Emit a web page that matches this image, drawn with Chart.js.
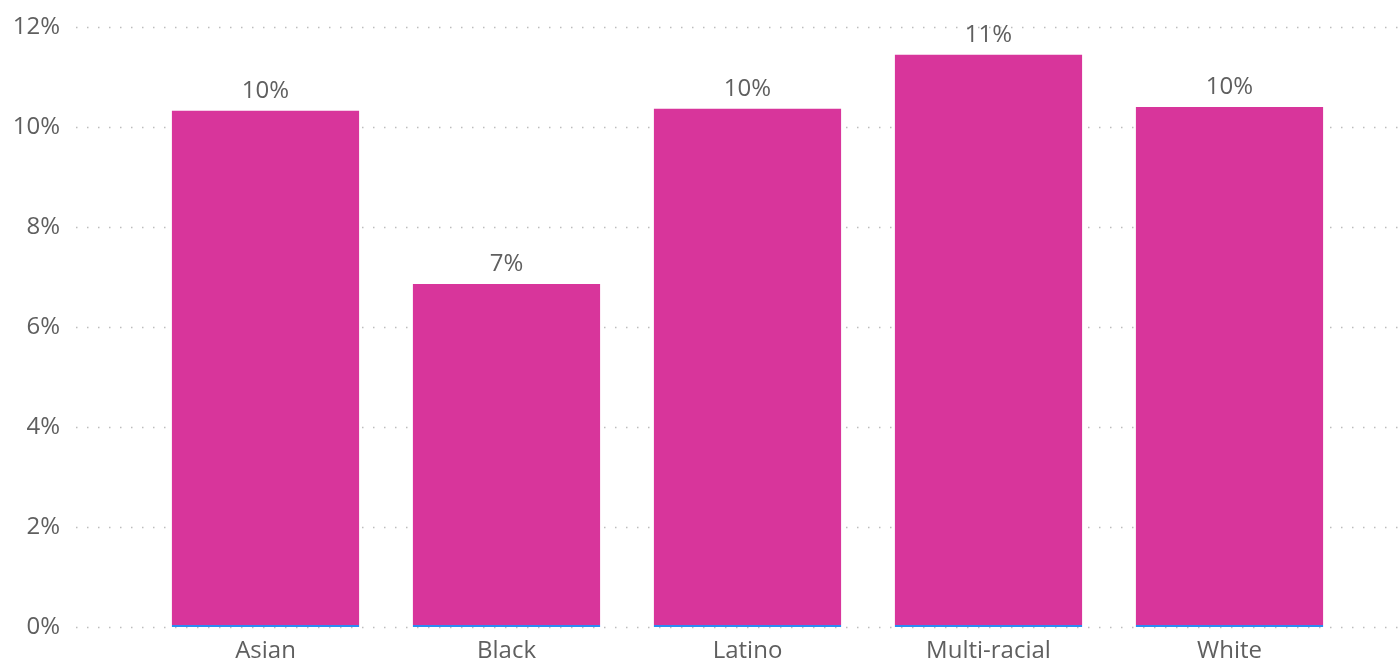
<!DOCTYPE html>
<html>
<head>
<meta charset="utf-8">
<script src="https://cdn.jsdelivr.net/npm/chart.js@4/dist/chart.umd.min.js"></script>
<style>
  html, body { margin: 0; padding: 0; background: #ffffff; }
  #wrap { width: 1400px; height: 665px; position: relative; }
</style>
</head>
<body>
<div id="wrap"><canvas id="c" width="1400" height="665"></canvas></div>
<script>
// Share by race / ethnicity (percent)
const categories = ['Asian', 'Black', 'Latino', 'Multi-racial', 'White'];
const shareValues = [10.33, 6.86, 10.37, 11.45, 10.4];
const yTickValues = [0, 2, 4, 6, 8, 10, 12];

const FONT = '"Open Sans", "Noto Sans", sans-serif';
const FONT_SIZE = 24;
const TEXT_COLOR = '#5f5f5f';

// Dotted horizontal guides that run past the category band to the canvas edges
const dottedGrid = {
  id: 'dottedGrid',
  beforeDatasetsDraw(chart) {
    const ctx = chart.ctx;
    const y = chart.scales.y;
    ctx.save();
    ctx.strokeStyle = '#bdbdbd';
    ctx.lineWidth = 1.5;
    ctx.setLineDash([1.5, 9.5]);
    yTickValues.forEach(v => {
      const py = Math.round(y.getPixelForValue(v)) + 0.5;
      ctx.beginPath();
      ctx.moveTo(76, py);
      ctx.lineTo(1400, py);
      ctx.stroke();
    });
    ctx.restore();
  }
};

// Rounded value labels above each bar
const valueLabels = {
  id: 'valueLabels',
  afterDatasetsDraw(chart) {
    const ctx = chart.ctx;
    const meta = chart.getDatasetMeta(0);
    ctx.save();
    ctx.font = FONT_SIZE + 'px ' + FONT;
    ctx.fillStyle = TEXT_COLOR;
    ctx.textAlign = 'center';
    ctx.textBaseline = 'alphabetic';
    meta.data.forEach((bar, i) => {
      const v = chart.data.datasets[0].data[i];
      ctx.fillText(Math.round(v) + '%', bar.x, bar.y - 13);
    });
    ctx.restore();
  }
};

new Chart(document.getElementById('c'), {
  type: 'bar',
  data: {
    labels: categories,
    datasets: [{
      data: shareValues,
      backgroundColor: '#d8359b',
      borderColor: '#2b8cf2',
      borderWidth: { top: 0, left: 0, right: 0, bottom: 2 },
      borderSkipped: false,
      categoryPercentage: 1,
      barPercentage: 0.7785
    }]
  },
  options: {
    responsive: false,
    animation: false,
    devicePixelRatio: 1,
    layout: { padding: { top: 27, right: 50, bottom: 2, left: 0 } },
    plugins: { legend: { display: false }, tooltip: { enabled: false } },
    scales: {
      x: {
        grid: { display: false, drawTicks: false },
        border: { display: false },
        afterFit(scale) {
          scale.height = 36;
          scale.paddingLeft = 0;
          scale.paddingRight = 0;
        },
        ticks: {
          color: TEXT_COLOR,
          font: { family: FONT, size: FONT_SIZE },
          padding: 10,
          maxRotation: 0,
          autoSkip: false
        }
      },
      y: {
        min: 0,
        max: 12,
        afterFit(scale) {
          scale.width = 145;
          scale.paddingTop = 0;
          scale.paddingBottom = 0;
        },
        afterBuildTicks(scale) { scale.ticks = yTickValues.map(v => ({ value: v })); },
        grid: { display: false, drawTicks: false },
        border: { display: false },
        ticks: {
          color: TEXT_COLOR,
          font: { family: FONT, size: FONT_SIZE },
          padding: 85,
          callback: v => v + '%'
        }
      }
    }
  },
  plugins: [dottedGrid, valueLabels]
});
</script>
</body>
</html>
